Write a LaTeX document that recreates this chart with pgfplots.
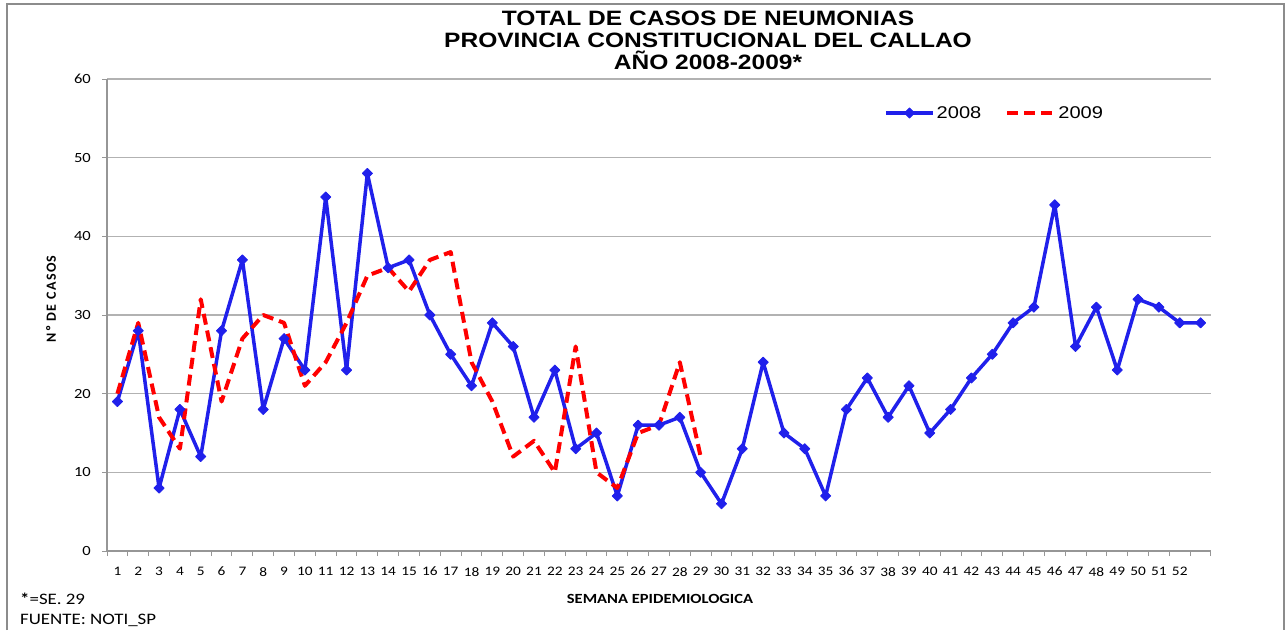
\documentclass[border=0pt]{standalone}
\usepackage{fontspec}
\setmainfont{Carlito}
\newfontfamily\calib[FakeStretch=1.18]{Carlito}
\newfontfamily\arialw[FakeStretch=1.18]{Liberation Sans}
\usepackage{pgfplots}
\pgfplotsset{compat=1.18}
\definecolor{Blue08}{RGB}{32,32,235}
\definecolor{Red09}{RGB}{255,0,0}
\definecolor{GridGray}{RGB}{178,178,178}
\definecolor{AxisGray}{RGB}{150,150,150}
\definecolor{FrameGray}{RGB}{140,140,140}

\begin{document}
\begin{tikzpicture}[x=1pt,y=1pt]
\useasboundingbox (0,0) rectangle (1287,630);
% chart frame
\draw[FrameGray, line width=1.2pt] (7,0) -- (7,626) -- (1284,626) -- (1284,0);

\begin{axis}[
    at={(107pt,79pt)}, anchor=south west,
    scale only axis,
    width=1104pt, height=472pt,
    xmin=0.5, xmax=53.5,
    ymin=0, ymax=60,
    xtick={1,...,52},
    minor xtick={0.5,1.5,...,53.5},
    ytick={0,10,...,60},
    axis lines*=left,
    axis line style={-, draw=AxisGray, line width=1.2pt},
    tick align=outside,
    major tick length=5pt,
    minor tick length=5pt,
    major x tick style={draw=none},
    minor x tick style={draw=AxisGray, line width=1pt},
    major y tick style={draw=AxisGray, line width=1pt},
    ymajorgrids,
    grid style={draw=GridGray, line width=1.2pt},
    /pgf/number format/assume math mode=true,
    xticklabel style={font=\calib\fontsize{13}{13}\selectfont, inner sep=0pt, anchor=north, yshift=-11pt},
    yticklabel style={font=\calib\fontsize{14}{14}\selectfont, inner sep=0pt, anchor=east, xshift=-11pt},
    legend style={draw=none, fill=none, at={(0.804,0.928)}, anchor=center,
        font=\arialw\fontsize{17}{17}\selectfont,
        /tikz/every even column/.append style={column sep=22pt}},
    legend columns=2,
    legend image code/.code={\draw[mark repeat=2,mark phase=2,#1] plot coordinates {(0pt,0pt)(23.5pt,0pt)(47pt,0pt)};},
    clip=false,
]
\addplot[color=Blue08, line width=3.5pt, line join=round, mark=square*, mark size=3.6pt,
    mark options={solid, rotate=45, fill=Blue08, line width=0.8pt}] coordinates {
    (1,19) (2,28) (3,8) (4,18) (5,12) (6,28) (7,37) (8,18) (9,27) (10,23)
    (11,45) (12,23) (13,48) (14,36) (15,37) (16,30) (17,25) (18,21) (19,29) (20,26)
    (21,17) (22,23) (23,13) (24,15) (25,7) (26,16) (27,16) (28,17) (29,10) (30,6)
    (31,13) (32,24) (33,15) (34,13) (35,7) (36,18) (37,22) (38,17) (39,21) (40,15)
    (41,18) (42,22) (43,25) (44,29) (45,31) (46,44) (47,26) (48,31) (49,23) (50,32)
    (51,31) (52,29) (53,29)
};
\addlegendentry{2008}
\addplot[color=Red09, line width=4pt, line join=round, dash pattern=on 11pt off 6pt] coordinates {
    (1,20) (2,29) (3,17) (4,13) (5,32) (6,19) (7,27) (8,30) (9,29) (10,21)
    (11,24) (12,29) (13,35) (14,36) (15,33) (16,37) (17,38) (18,24) (19,19) (20,12)
    (21,14) (22,10) (23,26) (24,10) (25,8) (26,15) (27,16) (28,24) (29,12)
};
\addlegendentry{2009}
\end{axis}

% titles
\node[anchor=base, font=\arialw\bfseries\fontsize{20.8}{20.8}\selectfont] at (708,604) {TOTAL DE CASOS DE NEUMONIAS};
\node[anchor=base, font=\arialw\bfseries\fontsize{20.8}{20.8}\selectfont] at (708,582) {PROVINCIA CONSTITUCIONAL DEL CALLAO};
\node[anchor=base, font=\arialw\bfseries\fontsize{20.8}{20.8}\selectfont] at (708,560) {AÑO 2008-2009*};

% axis labels
\node[rotate=90, font=\bfseries\fontsize{14}{14}\selectfont\addfontfeature{LetterSpace=10}] at (51,331) {Nº DE CASOS};
\node[font=\calib\bfseries\fontsize{14}{14}\selectfont] at (660,31) {SEMANA EPIDEMIOLOGICA};

% notes
\node[anchor=west, font=\calib\fontsize{16}{16}\selectfont, inner sep=0pt] at (20,31) {\textbf{*}=SE. 29};
\node[anchor=west, font=\calib\fontsize{16}{16}\selectfont, inner sep=0pt] at (20,10) {FUENTE: NOTI\_SP};
\end{tikzpicture}
\end{document}
